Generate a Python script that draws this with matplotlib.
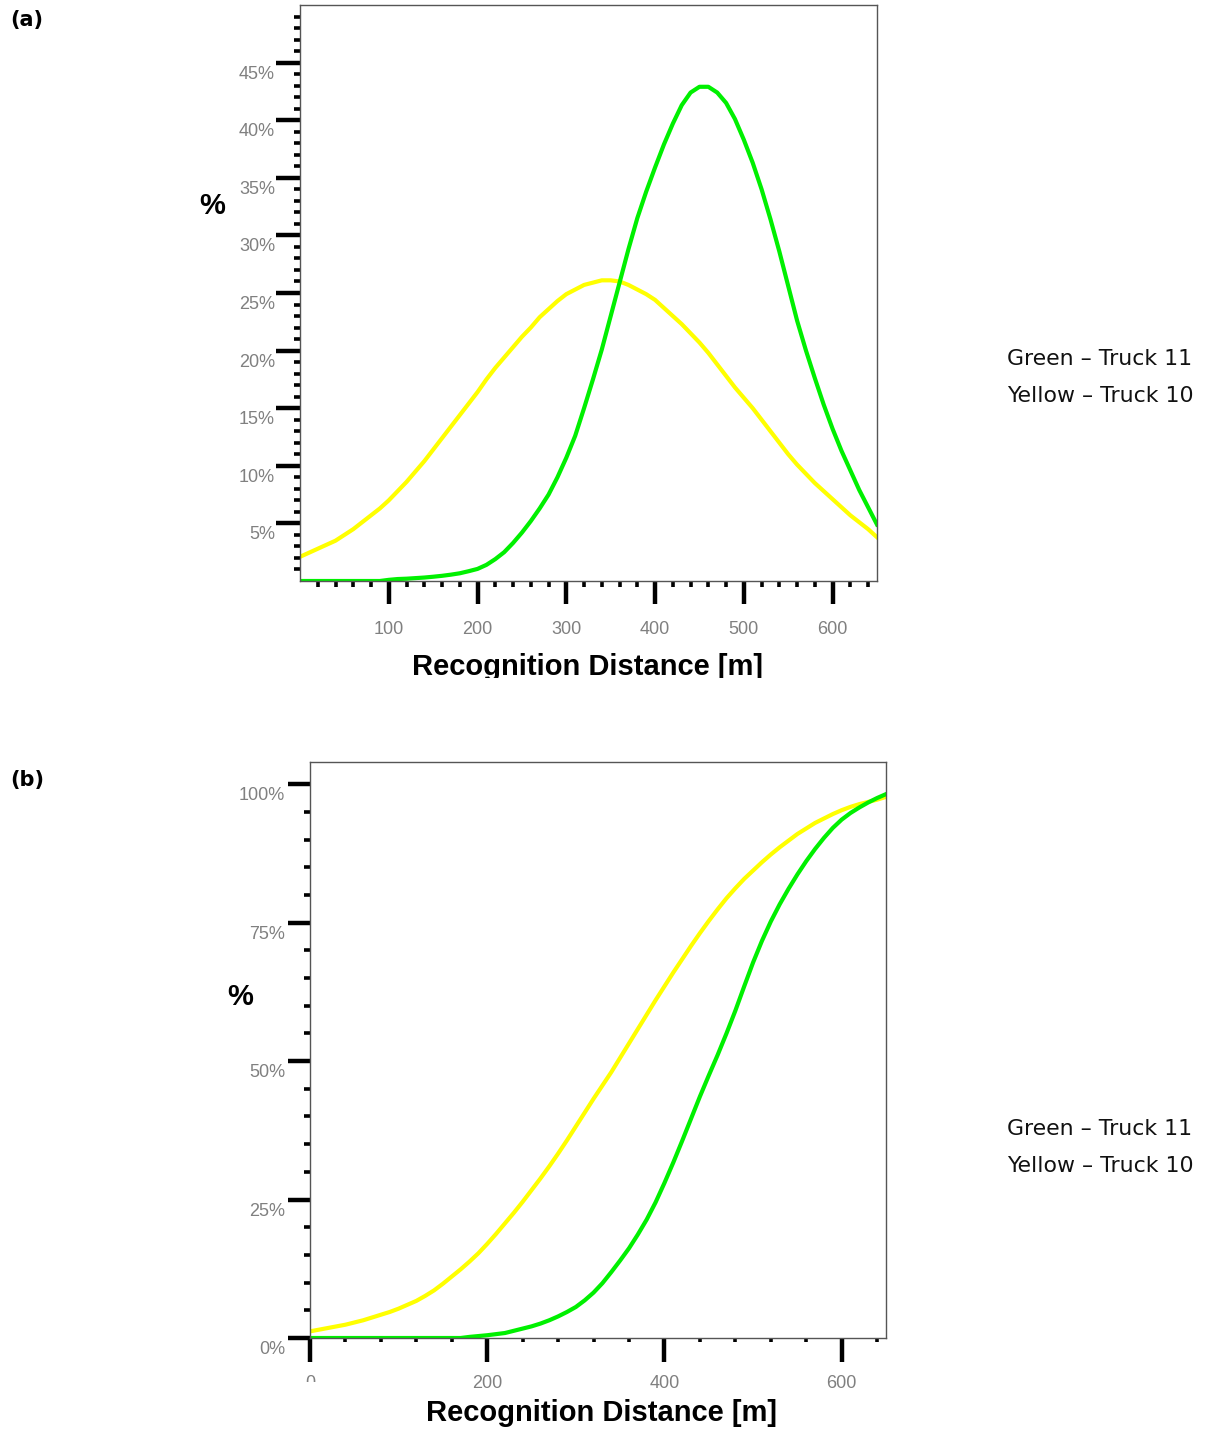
import matplotlib.pyplot as plt
from matplotlib.transforms import Bbox, TransformedBbox, ScaledTranslation

plt.rcParams['font.family'] = 'Liberation Sans'

# recognition distance [m]
distance = [0, 10, 20, 30, 40, 50, 60, 70, 80, 90,
            100, 110, 120, 130, 140, 150, 160, 170, 180, 190,
            200, 210, 220, 230, 240, 250, 260, 270, 280, 290,
            300, 310, 320, 330, 340, 350, 360, 370, 380, 390,
            400, 410, 420, 430, 440, 450, 460, 470, 480, 490,
            500, 510, 520, 530, 540, 550, 560, 570, 580, 590,
            600, 610, 620, 630, 640, 650]

# (a) share of recognitions [%]
green_a = [0, 0, 0, 0, 0, 0, 0, 0, 0, 0,
           0.1, 0.17, 0.2, 0.25, 0.3, 0.37, 0.45, 0.55, 0.67, 0.85,
           1.05, 1.4, 1.9, 2.5, 3.3, 4.2, 5.2, 6.3, 7.5, 9.0,
           10.7, 12.6, 15.0, 17.5, 20.1, 23.0, 25.9, 28.8, 31.5, 33.8,
           35.9, 37.9, 39.7, 41.3, 42.4, 42.9, 42.9, 42.4, 41.5, 40.1,
           38.3, 36.3, 34.0, 31.4, 28.6, 25.6, 22.6, 20.0, 17.6, 15.3,
           13.2, 11.3, 9.6, 7.9, 6.4, 4.9]
yellow_a = [2.1, 2.45, 2.8, 3.15, 3.5, 4.0, 4.5, 5.1, 5.7, 6.3,
            7.0, 7.8, 8.6, 9.5, 10.4, 11.4, 12.4, 13.4, 14.4, 15.4,
            16.4, 17.5, 18.5, 19.4, 20.3, 21.2, 22.0, 22.9, 23.6, 24.3,
            24.9, 25.3, 25.7, 25.9, 26.1, 26.1, 26.0, 25.7, 25.3, 24.9,
            24.4, 23.7, 23.0, 22.3, 21.5, 20.7, 19.8, 18.8, 17.8, 16.8,
            15.9, 15.0, 14.0, 13.0, 12.0, 11.0, 10.1, 9.3, 8.5, 7.8,
            7.1, 6.4, 5.7, 5.1, 4.5, 3.8]

# (b) cumulative share [%]
green_b = [0, 0, 0, 0, 0, 0, 0, 0, 0, 0,
           0, 0, 0, 0, 0, 0, 0, 0, 0.2, 0.35,
           0.5, 0.7, 0.9, 1.3, 1.7, 2.1, 2.6, 3.2, 3.9, 4.7,
           5.6, 6.8, 8.2, 9.9, 11.9, 14.0, 16.2, 18.7, 21.4, 24.5,
           28.0, 31.7, 35.6, 39.6, 43.6, 47.4, 51.1, 55.0, 59.1, 63.5,
           67.8, 71.7, 75.2, 78.3, 81.1, 83.7, 86.1, 88.3, 90.3, 92.1,
           93.6, 94.8, 95.8, 96.7, 97.5, 98.2]
yellow_b = [1.2, 1.5, 1.8, 2.1, 2.4, 2.8, 3.2, 3.7, 4.2, 4.7,
            5.3, 6.0, 6.7, 7.6, 8.6, 9.8, 11.1, 12.4, 13.8, 15.3,
            17.0, 18.8, 20.7, 22.6, 24.6, 26.7, 28.8, 31.0, 33.3, 35.7,
            38.2, 40.7, 43.2, 45.6, 48.0, 50.6, 53.2, 55.8, 58.4, 61.0,
            63.5, 66.0, 68.4, 70.8, 73.1, 75.3, 77.4, 79.4, 81.2, 82.9,
            84.4, 85.9, 87.3, 88.6, 89.8, 91.0, 92.0, 93.0, 93.8, 94.6,
            95.3, 95.9, 96.4, 96.8, 97.2, 97.7]

yticks_a = [5, 10, 15, 20, 25, 30, 35, 40, 45]
xticks_a = [100, 200, 300, 400, 500, 600]
yticks_b = [0, 25, 50, 75, 100]
xticks_b = [0, 200, 400, 600]

GREEN = '#00f000'
YELLOW = '#ffff00'
GREY = '#808080'

W, H = 1211, 1430
fig = plt.figure(figsize=(W / 100, H / 100), dpi=100)


def fx(x):
    return x / W


def fy(y):
    return 1 - y / H


def setup(ax, ylim, ymaj, ymin, xmaj, xmin, ylen, xlen, xminlen, ypad, xpad):
    ax.set_xlim(0, 650)
    ax.set_ylim(*ylim)
    for s in ax.spines.values():
        s.set_color('#555555')
        s.set_linewidth(1)
    ax.set_yticks(ymaj)
    ax.set_yticklabels([f'{v}%' for v in ymaj], va='top')
    ax.set_yticks(ymin, minor=True)
    ax.set_xticks(xmaj)
    ax.set_xticklabels([str(v) for v in xmaj])
    ax.set_xticks(xmin, minor=True)
    ax.tick_params(axis='y', which='major', direction='out', length=ylen, width=3.2,
                   pad=ypad, labelsize=13, labelcolor=GREY)
    ax.tick_params(axis='y', which='minor', direction='out', length=4.3, width=2.6)
    ax.tick_params(axis='x', which='major', direction='out', length=xlen, width=3.2,
                   pad=xpad, labelsize=13, labelcolor=GREY)
    ax.tick_params(axis='x', which='minor', direction='out', length=xminlen, width=2.6)
    # y labels sit a little below their ticks
    shift = ScaledTranslation(0, -3 / 100, fig.dpi_scale_trans)
    for t in ax.yaxis.get_major_ticks():
        t.label1.set_transform(t.label1.get_transform() + shift)


# ---- (a) distribution
ax1 = fig.add_axes([fx(300), fy(581), fx(877) - fx(300), fy(5) - fy(581)])
ax1.plot(distance, yellow_a, color=YELLOW, lw=3, solid_joinstyle='round')
ax1.plot(distance, green_a, color=GREEN, lw=3, solid_joinstyle='round')
setup(ax1, (0, 50), yticks_a, [v for v in range(1, 50) if v % 5],
      xticks_a, [v for v in range(20, 650, 20) if v % 100],
      17.3, 16.5, 4.3, 0.7, 12)

# ---- (b) cumulative
ax2 = fig.add_axes([fx(310), fy(1338), fx(886) - fx(310), fy(762) - fy(1338)])
ax2.plot(distance, yellow_b, color=YELLOW, lw=3, solid_joinstyle='round')
ax2.plot(distance, green_b, color=GREEN, lw=3, solid_joinstyle='round')
setup(ax2, (0, 104), yticks_b, [v for v in range(5, 101, 5) if v % 25],
      xticks_b, [v for v in range(40, 650, 40) if v % 200],
      15.8, 17.3, 3.0, 2, 9.7)

# the "0" label is cut off in the original
lab0 = ax2.xaxis.get_major_ticks()[0].label1
lab0.set_clip_on(True)
lab0.set_clip_box(TransformedBbox(Bbox.from_extents(0, fy(1382), 1, 1), fig.transFigure))

# ---- texts
for y, tag in [(20, '(a)'), (780, '(b)')]:
    fig.text(fx(10), fy(y), tag, family='DejaVu Sans', weight='bold', fontsize=15,
             ha='left', va='center')

fig.text(fx(212), fy(206), '%', weight='bold', fontsize=21, ha='center', va='center')
fig.text(fx(240), fy(997), '%', weight='bold', fontsize=21, ha='center', va='center')

xl1 = fig.text(fx(587), fy(667), 'Recognition Distance [m]', weight='bold', fontsize=21,
               ha='center', va='center')
xl1.set_clip_on(True)
xl1.set_clip_box(TransformedBbox(Bbox.from_extents(0, fy(678), 1, 1), fig.transFigure))
fig.text(fx(601), fy(1413), 'Recognition Distance [m]', weight='bold', fontsize=21,
         ha='center', va='center')

for y0 in [359, 1129]:
    fig.text(fx(1007), fy(y0), 'Green \u2013 Truck 11', family='DejaVu Sans', fontsize=15.8,
             color='#111111', ha='left', va='center')
    fig.text(fx(1007), fy(y0 + 37), 'Yellow \u2013 Truck 10', family='DejaVu Sans', fontsize=15.8,
             color='#111111', ha='left', va='center')

fig.savefig('out.png', dpi=100)
